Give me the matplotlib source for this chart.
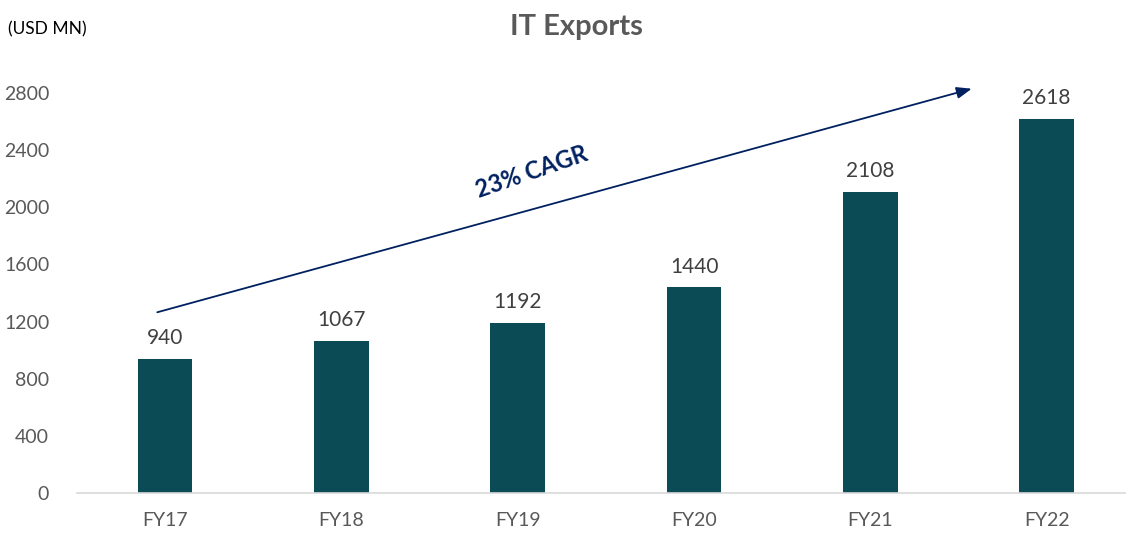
import matplotlib
matplotlib.use('Agg')
import matplotlib.pyplot as plt

years = ["FY17", "FY18", "FY19", "FY20", "FY21", "FY22"]
exports = [940, 1067, 1192, 1440, 2108, 2618]
yticks = [0, 400, 800, 1200, 1600, 2000, 2400, 2800]

plt.rcParams['font.family'] = ['Lato', 'DejaVu Sans']

fig = plt.figure(figsize=(11.26, 5.39), dpi=100)
ax = fig.add_axes([0.0684, 0.0853, 0.9316, 0.7422])

x = list(range(len(years)))
bars = ax.bar(x, exports, width=0.31, color="#0a4b56")

for xi, v in zip(x, exports):
    ax.text(xi, v + 75, f"{v}", ha="center", va="bottom", fontsize=15, color="#404040")

ax.set_xlim(-0.5, 5.45)
ax.set_ylim(0, 2800)
ax.set_xticks(x)
ax.set_xticklabels(years, fontsize=14, color="#595959")
ax.set_yticks(yticks)
ax.set_yticklabels([str(t) for t in yticks], fontsize=14, color="#595959")
ax.tick_params(axis="both", length=0)
ax.tick_params(axis="x", pad=14)
ax.tick_params(axis="y", pad=20)

for s in ["top", "right", "left"]:
    ax.spines[s].set_visible(False)
ax.spines["bottom"].set_color("#d9d9d9")
ax.spines["bottom"].set_linewidth(1.2)

# CAGR arrow
ax.annotate("", xy=(4.59, 2835), xytext=(-0.06, 1260),
            arrowprops=dict(arrowstyle="-|>,head_length=0.9,head_width=0.35",
                            color="#002060", lw=1.3),
            annotation_clip=False)
ax.text(2.08, 2250, "23% CAGR", rotation=19, ha="center", va="center",
        fontsize=17, fontweight="bold", color="#002060")

fig.text(0.512, 0.95, "IT Exports", ha="center", va="center",
         fontsize=21, fontweight="bold", color="#595959")
fig.text(0.007, 0.945, "(USD MN)", ha="left", va="center",
         fontsize=12.5, color="black")

fig.savefig("out.png", dpi=100)
